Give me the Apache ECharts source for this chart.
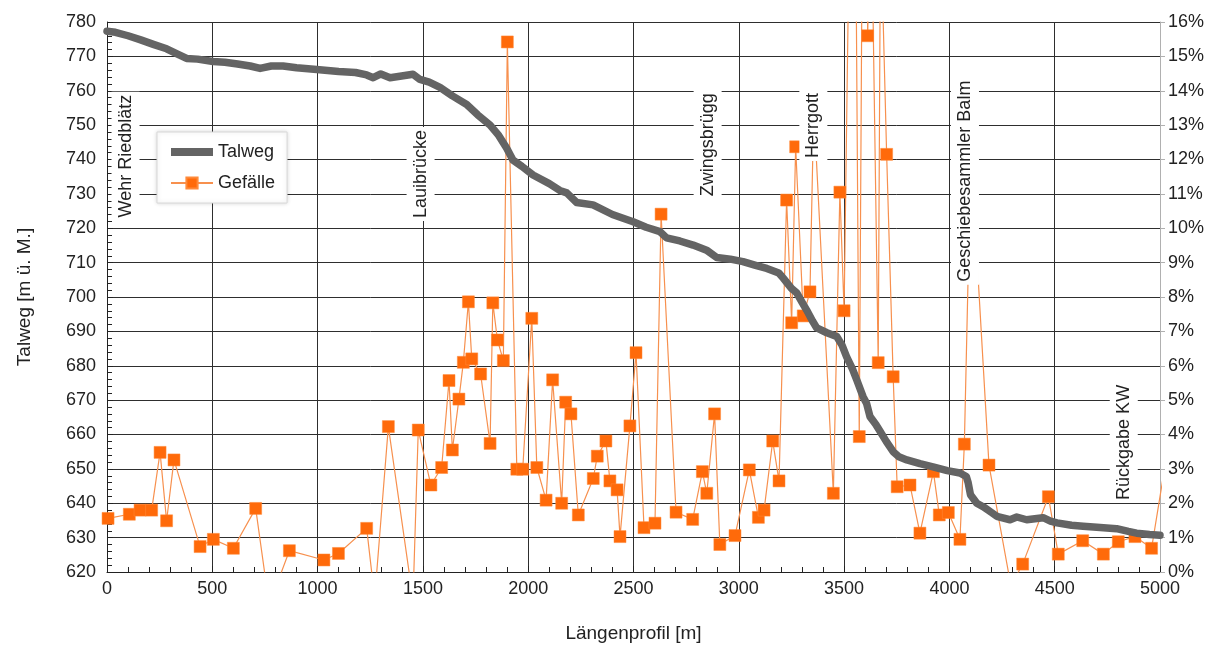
<!DOCTYPE html>
<html>
<head>
<meta charset="utf-8">
<script src="https://cdn.jsdelivr.net/npm/echarts@6/dist/echarts.min.js"></script>
<style>
html,body{margin:0;padding:0;background:#fff;}
#chart{width:1214px;height:649px;}
</style>
</head>
<body>
<div id="chart"></div>
<script>
// Talweg (thalweg elevation) [distance m, elevation m ü. M.]
const talwegX = [0,40,100,160,220,283,340,378,430,504,560,620,680,727,780,836,900,996,1100,1180,1233,1264,1300,1344,1391,1453,1486,1530,1581,1640,1708,1760,1819,1860,1898,1928,1970,2023,2100,2150,2183,2230,2308,2400,2498,2560,2626,2657,2720,2783,2850,2895,2960,3020,3080,3133,3190,3211,3250,3275,3300,3322,3350,3370,3418,3465,3490,3512,3540,3560,3590,3607,3623,3650,3670,3700,3733,3760,3798,3860,3922,3990,4050,4080,4089,4100,4130,4160,4200,4225,4288,4320,4367,4445,4480,4511,4580,4635,4700,4794,4850,4889,4950,5000];
const talwegY = [777.3,777,776,774.8,773.5,772.2,770.5,769.4,769.2,768.5,768.3,767.8,767.2,766.5,767.2,767.2,766.7,766.2,765.6,765.3,764.6,763.8,764.9,763.8,764.2,764.8,763.3,762.5,761,758.5,756,753,750,747,743.3,739.8,738,735.5,733,731,730.3,727.5,726.8,724,721.9,720.3,719,717.2,716.3,715.1,713.5,711.5,711,710.3,709.2,708.3,707,705.5,702.5,701.2,698.5,696.2,693,691,689.6,688.5,686,682.6,679,675.9,671,669,665.2,663,661,658,655,653.5,652.6,651.5,650.6,649.5,648.8,647.8,646,642.5,640,639,637.3,636.2,635.2,636,635.2,635.8,634.8,634.3,633.6,633.3,633,632.6,631.8,631.3,630.9,630.7];

// Gefälle (gradient) [distance m, percent]
const gefaelleX = [5,106,157,212,252,283,318,442,505,600,706,770,866,1030,1099,1233,1271,1336,1453,1478,1538,1589,1624,1640,1671,1692,1716,1732,1774,1819,1832,1854,1882,1901,1946,1974,2017,2041,2085,2116,2159,2178,2203,2238,2309,2328,2369,2388,2422,2436,2483,2512,2550,2602,2631,2702,2781,2827,2848,2885,2910,2982,3050,3093,3120,3161,3191,3227,3251,3270,3306,3338,3356,3449,3480,3500,3545,3572,3594,3612,3627,3662,3673,3702,3733,3752,3813,3860,3924,3952,3995,4050,4071,4102,4188,4292,4348,4470,4517,4633,4731,4802,4881,4960,5040];
const gefaelleY = [1.56,1.68,1.80,1.80,3.48,1.49,3.26,0.74,0.95,0.69,1.85,-0.96,0.62,0.35,0.54,1.27,-0.76,4.23,-0.8,4.13,2.53,3.04,5.57,3.55,5.03,6.10,7.86,6.20,5.76,3.74,7.83,6.75,6.15,15.42,2.99,2.99,7.38,3.04,2.09,5.59,2.00,4.94,4.60,1.66,2.72,3.37,3.81,2.65,2.39,1.03,4.25,6.38,1.29,1.42,10.41,1.74,1.53,2.92,2.29,4.6,0.8,1.06,2.97,1.59,1.80,3.81,2.65,10.82,7.25,12.37,7.45,8.15,13.5,2.29,11.05,7.6,28,3.94,27,15.6,20.5,6.09,19,12.15,5.68,2.48,2.53,1.13,2.92,1.66,1.73,0.95,3.72,12.2,3.11,-0.4,0.23,2.19,0.52,0.91,0.52,0.88,1.03,0.69,3.7];

// Place annotations [distance m, elevation of label centre]
const placeNames = ['Wehr Riedblätz','Lauibrücke','Zwingsbrügg','Herrgott','Geschiebesammler Balm','Rückgabe KW'];
const placeX = [88,1489,2852,3354,4074,4828];
const placeY = [741,735.8,744.3,749.9,733.7,657.7];

// Axis ticks
const xTicks = {min:0, max:5000, interval:500};
const yLeftTicks = {min:620, max:780, interval:10};
const yRightTicks = {min:0, max:16, interval:1};

const FONT = 'Liberation Sans';
const TXT = '#222';
const GRID = '#2e2e2e';

const chart = echarts.init(document.getElementById('chart'), null, {renderer:'canvas'});
chart.setOption({
  animation:false,
  backgroundColor:'#fff',
  textStyle:{fontFamily:FONT},
  grid:{left:107, right:54, top:22, bottom:77, containLabel:false},
  legend:{
    orient:'vertical', left:157, top:132,
    padding:[11,12,11,13],
    backgroundColor:'#fff', borderColor:'#d8d8d8', borderWidth:1,
    shadowColor:'rgba(0,0,0,0.15)', shadowBlur:4,
    itemWidth:42, itemHeight:14, itemGap:13,
    textStyle:{fontFamily:FONT, fontSize:18, color:TXT, padding:[0,0,0,0]},
    data:[
      {name:'Talweg', icon:'path://M0,0L42,0L42,8L0,8Z', itemStyle:{color:'#646464'}},
      {name:'Gefälle'}
    ]
  },
  xAxis:{
    type:'value', min:xTicks.min, max:xTicks.max, interval:xTicks.interval,
    name:'Längenprofil [m]', nameLocation:'middle', nameGap:52,
    nameTextStyle:{fontFamily:FONT, fontSize:19, color:TXT},
    axisLine:{show:true, onZero:false, lineStyle:{color:'#222', width:1}},
    axisTick:{show:true, inside:true, length:6, lineStyle:{color:'#222'}},
    minorTick:{show:true, splitNumber:5, length:5, lineStyle:{color:'#222'}},
    axisLabel:{fontFamily:FONT, fontSize:18, color:TXT, margin:8, formatter:(v)=>String(v)},
    splitLine:{show:true, lineStyle:{color:GRID, width:1}}
  },
  yAxis:[
    {
      type:'value', min:yLeftTicks.min, max:yLeftTicks.max, interval:yLeftTicks.interval,
      name:'Talweg [m ü. M.]', nameLocation:'middle', nameGap:73, nameRotate:90,
      nameTextStyle:{fontFamily:FONT, fontSize:19, color:TXT},
      axisLine:{show:true, onZero:false, lineStyle:{color:'#222', width:1}},
      axisTick:{show:true, inside:true, length:6, lineStyle:{color:'#222'}},
      minorTick:{show:true, splitNumber:5, length:5, lineStyle:{color:'#222'}},
      axisLabel:{fontFamily:FONT, fontSize:18, color:TXT, margin:11, formatter:(v)=>String(v)},
      splitLine:{show:true, lineStyle:{color:GRID, width:1}}
    },
    {
      type:'value', min:yRightTicks.min, max:yRightTicks.max, interval:yRightTicks.interval,
      position:'right',
      axisLine:{show:true, onZero:false, lineStyle:{color:'#b0b0b0', width:1}},
      axisTick:{show:true, inside:false, length:5, lineStyle:{color:'#b0b0b0'}},
      axisLabel:{fontFamily:FONT, fontSize:18, color:TXT, margin:8, formatter:'{value}%'},
      splitLine:{show:false}
    }
  ],
  series:[
    {
      name:'Gefälle', type:'line', yAxisIndex:1, clip:true, z:3,
      data:gefaelleX.map((x,i)=>[x,gefaelleY[i]]),
      symbol:'rect', symbolSize:12, showSymbol:true,
      itemStyle:{color:'#ff6a0a', borderColor:'#ff8a3a', borderWidth:0.5},
      lineStyle:{color:'#f7904e', width:1.2}
    },
    {
      name:'Talweg', type:'line', yAxisIndex:0, clip:true, z:4,
      data:talwegX.map((x,i)=>[x,talwegY[i]]),
      symbol:'none', showSymbol:false,
      itemStyle:{color:'#646464'},
      lineStyle:{color:'#646464', width:7.5, join:'round', cap:'round'}
    },
    {
      name:'places', type:'scatter', yAxisIndex:0, z:10, silent:true,
      data:placeX.map((x,i)=>({value:[x,placeY[i]], name:placeNames[i]})),
      symbol:'circle', symbolSize:1, itemStyle:{opacity:0},
      label:{
        show:true, position:'inside', rotate:90, formatter:(p)=>p.name,
        fontFamily:FONT, fontSize:18, color:TXT,
        backgroundColor:'#fff', padding:[5,3,5,3], opacity:1
      },
      labelLayout:{hideOverlap:false}
    }
  ]
});
</script>
</body>
</html>
